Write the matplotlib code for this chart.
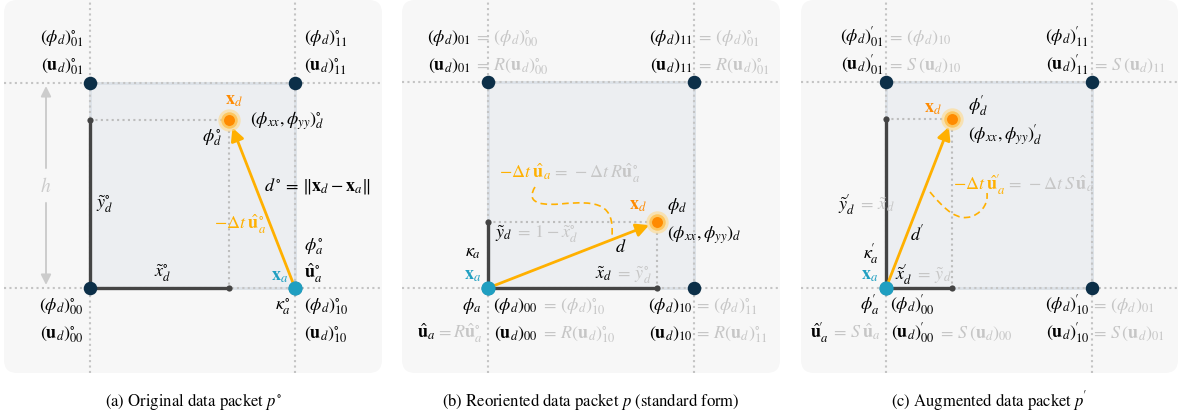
import matplotlib
matplotlib.use('Agg')
import matplotlib.pyplot as plt
from matplotlib.patches import FancyBboxPatch, Rectangle, PathPatch
from matplotlib.path import Path

plt.rcParams['mathtext.fontset'] = 'stix'
plt.rcParams['font.family'] = ['STIXGeneral', 'DejaVu Serif']

# ---------------- data ----------------
panels = ['a', 'b', 'c']
corner_x = [0, 1, 0, 1]
corner_y = [0, 0, 1, 1]
# position of the donor point x_d inside the unit cell (x~, y~)
xd_x = [0.68, 0.82, 0.32]
xd_y = [0.82, 0.32, 0.82]
# position of the acceptor point x_a
xa_x = [1, 0, 0]
xa_y = [0, 0, 0]
captions = [r'(a) Original data packet $p^{\circ}$',
            r'(b) Reoriented data packet $p$ (standard form)',
            r"(c) Augmented data packet $p^{\!\prime}$"]

# ---------------- style ----------------
W, H = 1178, 417
BG = '#f7f7f7'
CELL = '#eceef1'
CELL_EDGE = '#dce1e7'
GRID = '#c4c4c4'
NAVY = '#0c2f48'
CYAN = '#1f9fc1'
ORANGE = '#ff8a00'
AMBER = '#ffb000'
DARK = '#444444'
GREY = '#c6c6c6'

# pixel layout of each panel: left, right, cell-left, cell-right
layout = [(4, 382, 90, 295), (402, 780, 488, 694), (801, 1178, 886, 1092)]
PTOP, PBOT, CELL_BOT = 0, 373, 288

fig = plt.figure(figsize=(W / 100, H / 100), dpi=100)

axes = []
for i, (L, R, sl, sr) in enumerate(layout):
    s = sr - sl
    ax = fig.add_axes([L / W, (H - PBOT) / H, (R - L) / W, (PBOT - PTOP) / H])
    ax.set_xlim((L - sl) / s, (R - sl) / s)
    ax.set_ylim((CELL_BOT - PBOT) / s, (CELL_BOT - PTOP) / s)
    ax.axis('off')
    ax.add_patch(FancyBboxPatch((0, 0), 1, 1, boxstyle='round,pad=0,rounding_size=0.035',
                                transform=ax.transAxes, fc=BG, ec='none', zorder=0,
                                clip_on=False))
    # cell
    ax.add_patch(Rectangle((0, 0), 1, 1, fc=CELL, ec=CELL_EDGE, lw=2, zorder=1))
    # dotted grid lines
    for g in (0, 1):
        ax.axvline(g, color=GRID, ls=(0, (1, 1.6)), lw=1.5, zorder=2)
        ax.axhline(g, color=GRID, ls=(0, (1, 1.6)), lw=1.5, zorder=2)
    xd, yd = xd_x[i], xd_y[i]
    # projection dotted lines
    ax.plot([0, xd], [yd, yd], color='#bdbdbd', ls=(0, (1, 1.6)), lw=1.5, zorder=2)
    ax.plot([xd, xd], [yd, 0], color='#bdbdbd', ls=(0, (1, 1.6)), lw=1.5, zorder=2)
    # dark local coordinate lines
    ax.plot([0, 0], [0, yd], color=DARK, lw=2.4, zorder=3, solid_capstyle='butt')
    ax.plot([0, xd], [0, 0], color=DARK, lw=2.4, zorder=3, solid_capstyle='butt')
    ax.scatter([0, xd], [yd, 0], s=20, color=DARK, zorder=4, lw=0)
    # corner nodes
    ax.scatter(corner_x, corner_y, s=95, color=NAVY, zorder=5, lw=0)
    # arrow x_a -> x_d
    ax.annotate('', xy=(xd, yd), xytext=(xa_x[i], xa_y[i]),
                arrowprops=dict(arrowstyle='-|>,head_length=0.55,head_width=0.28',
                                color=AMBER, lw=2.0, shrinkA=0, shrinkB=6,
                                mutation_scale=14), zorder=6)
    # x_a node
    ax.scatter([xa_x[i]], [xa_y[i]], s=105, color=CYAN, zorder=7, lw=0)
    # x_d glowing node
    ax.scatter([xd], [yd], s=260, color='#ffd98a', alpha=0.6, zorder=7, lw=0)
    ax.scatter([xd], [yd], s=140, color='#ffc04a', alpha=0.8, zorder=7, lw=0)
    ax.scatter([xd], [yd], s=62, color=ORANGE, zorder=8, lw=0)
    axes.append(ax)

# h marker in panel (a)
axa = axes[0]
hx = (46 - 90) / 205
axa.annotate('', xy=(hx, 0.985), xytext=(hx, 0.585),
             arrowprops=dict(arrowstyle='-|>,head_length=0.5,head_width=0.25', color='#cccccc',
                             lw=1.4, shrinkA=0, shrinkB=0, mutation_scale=12))
axa.annotate('', xy=(hx, 0.015), xytext=(hx, 0.415),
             arrowprops=dict(arrowstyle='-|>,head_length=0.5,head_width=0.25', color='#cccccc',
                             lw=1.4, shrinkA=0, shrinkB=0, mutation_scale=12))

# ---------------- overlay for labels (pixel coordinates) ----------------
ov = fig.add_axes([0, 0, 1, 1], zorder=10)
ov.set_xlim(0, W)
ov.set_ylim(H, 0)
ov.axis('off')
ov.patch.set_alpha(0)

FS = 13
P = r'^{\!\prime}'


def txt(x, y, s, color='black', ha='left', size=FS):
    ov.text(x, y, s.replace('PR', P), color=color, ha=ha, va='baseline', fontsize=size)


def pair(x, y, black, grey):
    txt(x, y, black, ha='right')
    txt(x + 1, y, grey, color=GREY)


# dashed connectors
def dashed(verts):
    codes = [Path.MOVETO] + [Path.CURVE4] * (len(verts) - 1)
    ov.add_patch(PathPatch(Path(verts, codes), fc='none', ec=AMBER, lw=1.2,
                           ls=(0, (4, 2.5))))


dashed([(535, 187), (527, 200), (535, 206), (560, 204),
        (600, 200), (614, 205), (612, 236)])
dashed([(930, 192), (945, 210), (958, 222), (973, 216),
        (984, 211), (988, 202), (987, 193)])

# ----- panel (a)
txt(84, 42, r'$(\phi_d)^{\circ}_{01}$', ha='right')
txt(84, 70, r'$(\mathbf{u}_d)^{\circ}_{01}$', ha='right')
txt(304, 42, r'$(\phi_d)^{\circ}_{11}$')
txt(304, 70, r'$(\mathbf{u}_d)^{\circ}_{11}$')
txt(234, 105, r'$\mathbf{x}_d$', color=ORANGE, ha='center')
txt(250, 125, r'$(\phi_{xx},\phi_{yy})^{\circ}_d$')
txt(212, 141, r'$\phi^{\circ}_d$', ha='center')
txt(264, 190, r'$d^{\circ}\,=\,\Vert\mathbf{x}_d-\mathbf{x}_a\Vert$')
txt(105, 208, r'$\tilde{y}^{\circ}_d$', ha='center')
txt(214, 229, r'$-\Delta t\;\hat{\mathbf{u}}^{\circ}_a$', color=AMBER)
txt(304, 250, r'$\phi^{\circ}_a$')
txt(304, 278, r'$\hat{\mathbf{u}}^{\circ}_a$')
txt(288, 281, r'$\mathbf{x}_a$', color=CYAN, ha='right')
txt(163, 277, r'$\tilde{x}^{\circ}_d$', ha='center')
txt(84, 310, r'$(\phi_d)^{\circ}_{00}$', ha='right')
txt(84, 338, r'$(\mathbf{u}_d)^{\circ}_{00}$', ha='right')
txt(283, 310, r'$\kappa^{\circ}_a$', ha='center')
txt(304, 310, r'$(\phi_d)^{\circ}_{10}$')
txt(304, 338, r'$(\mathbf{u}_d)^{\circ}_{10}$')
txt(46, 192, r'$h$', color='#cccccc', ha='center', size=14)

# ----- panel (b)
pair(471, 42, r'$(\phi_d)_{01}$', r'$\,=\,(\phi_d)^{\circ}_{00}$')
pair(471, 70, r'$(\mathbf{u}_d)_{01}$', r'$\,=\,R(\mathbf{u}_d)^{\circ}_{00}$')
pair(693, 42, r'$(\phi_d)_{11}$', r'$\,=\,(\phi_d)^{\circ}_{01}$')
pair(693, 70, r'$(\mathbf{u}_d)_{11}$', r'$\,=\,R(\mathbf{u}_d)^{\circ}_{01}$')
txt(551, 178, r'$-\Delta t\;\hat{\mathbf{u}}_a$', color=AMBER, ha='right')
txt(552, 178, r'$=\,-\Delta t\;R\hat{\mathbf{u}}^{\circ}_a$', color=GREY)
txt(638, 210, r'$\mathbf{x}_d$', color=ORANGE, ha='center')
txt(667, 210, r'$\phi_d$')
txt(667, 239, r'$(\phi_{xx},\phi_{yy})_d$')
pair(512, 238, r'$\tilde{y}_d$', r'$\,=\,1-\tilde{x}^{\circ}_d$')
txt(621, 252, r'$d$', ha='center')
txt(473, 257, r'$\kappa_a$', ha='center')
txt(473, 280, r'$\mathbf{x}_a$', color=CYAN, ha='center')
pair(612, 279, r'$\tilde{x}_d$', r'$\,=\,\tilde{y}^{\circ}_d$')
txt(472, 310, r'$\phi_a$', ha='center')
pair(538, 310, r'$(\phi_d)_{00}$', r'$\,=\,(\phi_d)^{\circ}_{10}$')
pair(538, 338, r'$(\mathbf{u}_d)_{00}$', r'$\,=\,R(\mathbf{u}_d)^{\circ}_{10}$')
pair(435, 338, r'$\hat{\mathbf{u}}_a$', r'$=R\hat{\mathbf{u}}^{\circ}_a$')
pair(693, 310, r'$(\phi_d)_{10}$', r'$=\,(\phi_d)^{\circ}_{11}$')
pair(693, 338, r'$(\mathbf{u}_d)_{10}$', r'$=\,R(\mathbf{u}_d)^{\circ}_{11}$')

# ----- panel (c)
pair(884, 42, r"$(\phi_d)PR_{01}$", r'$\,=\,(\phi_d)_{10}$')
pair(884, 70, r"$(\mathbf{u}_d)PR_{01}$", r'$\,=\,S\,(\mathbf{u}_d)_{10}$')
txt(1089, 42, r"$(\phi_d)PR_{11}$", ha='right')
pair(1089, 70, r"$(\mathbf{u}_d)PR_{11}$", r'$\,=\,S\,(\mathbf{u}_d)_{11}$')
txt(933, 113, r'$\mathbf{x}_d$', color=ORANGE, ha='center')
txt(968, 111, r"$\phiPR_d$")
txt(968, 140, r"$(\phi_{xx},\phi_{yy})PR_d$")
txt(1005, 190, r"$-\Delta t\;\hat{\mathbf{u}}PR_a$", color=AMBER, ha='right')
txt(1006, 190, r'$=\,-\Delta t\;S\,\hat{\mathbf{u}}_a$', color=GREY)
pair(855, 210, r"$\tilde{y}PR_d$", r'$\,=\,\tilde{x}_d$')
txt(917, 240, r"$dPR$", ha='center')
txt(871, 259, r"$\kappaPR_a$", ha='center')
txt(870, 280, r'$\mathbf{x}_a$', color=CYAN, ha='center')
pair(912, 280, r"$\tilde{x}PR_d$", r'$\,=\,\tilde{y}_d$')
txt(870, 310, r"$\phiPR_a$", ha='center')
txt(890, 310, r"$(\phi_d)PR_{00}$")
pair(935, 338, r"$(\mathbf{u}_d)PR_{00}$", r'$\,=\,S\,(\mathbf{u}_d)_{00}$')
pair(828, 338, r"$\hat{\mathbf{u}}PR_a$", r'$\,=\,S\,\hat{\mathbf{u}}_a$')
pair(1090, 310, r"$(\phi_d)PR_{10}$", r'$=\,(\phi_d)_{01}$')
pair(1090, 338, r"$(\mathbf{u}_d)PR_{10}$", r'$=\,S\,(\mathbf{u}_d)_{01}$')

# captions
for (L, R, sl, sr), cap in zip(layout, captions):
    txt((L + R) / 2, 406, cap, ha='center', size=12)

fig.savefig('out.png', dpi=100)
